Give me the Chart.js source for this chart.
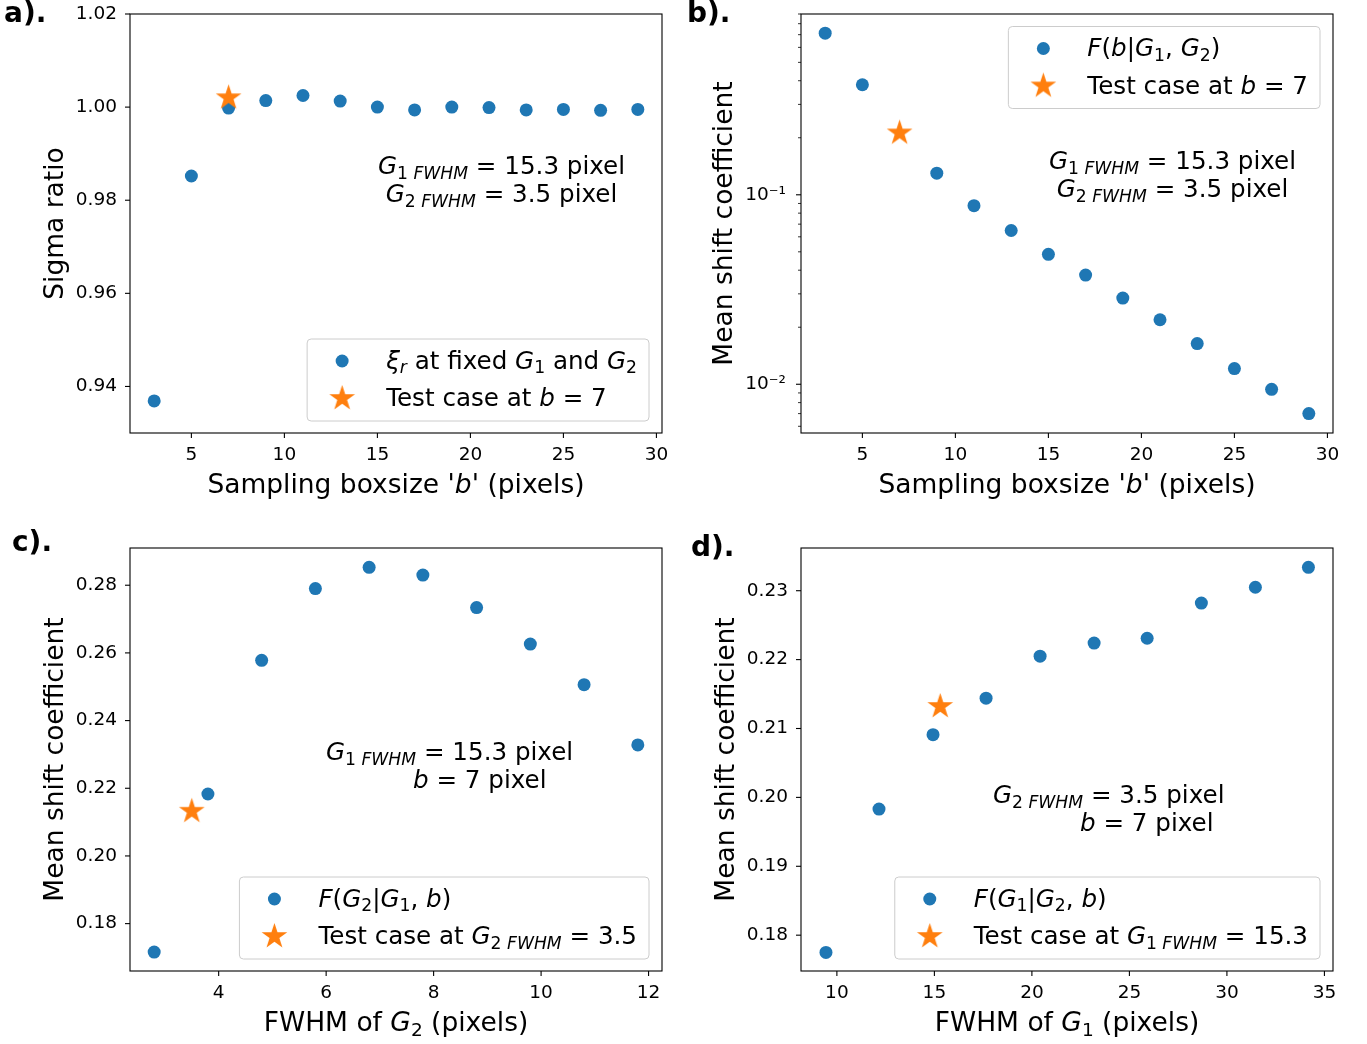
<!DOCTYPE html>
<html>
<head>
<meta charset="utf-8">
<title>Sigma ratio and mean shift coefficient</title>
<script src="https://cdn.jsdelivr.net/npm/chart.js@4.4.1/dist/chart.umd.min.js"></script>
<style>
  html, body { margin: 0; padding: 0; background: #fff; }
  #fig { position: relative; width: 1367px; height: 1044px; overflow: hidden; }
  .panel { position: absolute; }
</style>
</head>
<body>
<div id="fig">
  <div class="panel" style="left:0;top:0;width:683px;height:522px"><canvas id="chartA"></canvas></div>
  <div class="panel" style="left:683px;top:0;width:684px;height:522px"><canvas id="chartB"></canvas></div>
  <div class="panel" style="left:0;top:522px;width:683px;height:522px"><canvas id="chartC"></canvas></div>
  <div class="panel" style="left:683px;top:522px;width:684px;height:522px"><canvas id="chartD"></canvas></div>
</div>
<script>
const FONT = '"DejaVu Sans", "Liberation Sans", sans-serif';
const BLUE = '#1f77b4';
const ORANGE = '#ff7f0e';
const TICK_SIZE = 18.5;
const LABEL_SIZE = 26.5;
const TEXT_SIZE = 24.6;

// --- a): sigma ratio vs sampling boxsize b ---
const boxSizes = [3, 5, 7, 9, 11, 13, 15, 17, 19, 21, 23, 25, 27, 29];
const sigmaRatio = [0.9369, 0.9852, 0.9998, 1.0014, 1.0025, 1.0013, 1.0000, 0.9994, 1.0000, 0.9999, 0.9994, 0.9995, 0.9993, 0.9995];
const testBox = [7];
const testSigma = [1.0020];

// --- b): mean shift vs sampling boxsize b (b = 7 only shown as the test case) ---
const boxSizesB = [3, 5, 9, 11, 13, 15, 17, 19, 21, 23, 25, 27, 29];
const shiftVsBox = [0.713, 0.381, 0.130, 0.0876, 0.0648, 0.0485, 0.0377, 0.0285, 0.0219, 0.0164, 0.0121, 0.0094, 0.0070];
const testShiftB = [0.212];

// --- c): FWHM of G2 ---
const g2Fwhm = [2.8, 3.8, 4.8, 5.8, 6.8, 7.8, 8.8, 9.8, 10.8, 11.8];
const shiftVsG2 = [0.1716, 0.2183, 0.2578, 0.2790, 0.2853, 0.2830, 0.2734, 0.2626, 0.2506, 0.2328];
const testG2 = [3.5];
const testShiftC = [0.2132];

// --- d): FWHM of G1 ---
const g1Fwhm = [9.44, 12.16, 14.93, 17.65, 20.42, 23.19, 25.91, 28.69, 31.46, 34.18];
const shiftVsG1 = [0.1775, 0.1983, 0.2091, 0.2144, 0.2205, 0.2224, 0.2231, 0.2282, 0.2305, 0.2334];
const testG1 = [15.3];
const testShiftD = [0.2132];

// --- tick values ---
const boxTicks = [5, 10, 15, 20, 25, 30];
const sigmaTicks = [0.94, 0.96, 0.98, 1.00, 1.02];
const logMajorTicks = [0.01, 0.1];
const logMinorTicks = [0.006, 0.007, 0.008, 0.009, 0.02, 0.03, 0.04, 0.05, 0.06, 0.07, 0.08, 0.09,
  0.2, 0.3, 0.4, 0.5, 0.6, 0.7, 0.8, 0.9];
const g2Ticks = [4, 6, 8, 10, 12];
const shiftTicksC = [0.18, 0.20, 0.22, 0.24, 0.26, 0.28];
const g1Ticks = [10, 15, 20, 25, 30, 35];
const shiftTicksD = [0.18, 0.19, 0.20, 0.21, 0.22, 0.23];

// --- helpers ---
function makeStar(r, color) {
  const c = document.createElement('canvas');
  const size = Math.ceil(r * 2 + 2);
  c.width = size; c.height = size;
  const g = c.getContext('2d');
  g.translate(size / 2, size / 2);
  g.beginPath();
  for (let k = 0; k < 10; k++) {
    const rad = k % 2 ? r * 0.382 : r;
    const ang = -Math.PI / 2 + k * Math.PI / 5;
    g.lineTo(rad * Math.cos(ang), rad * Math.sin(ang));
  }
  g.closePath();
  g.fillStyle = color;
  g.fill();
  return c;
}
const starImg = makeStar(13.5, ORANGE);

// rich text runs: [text, flags]  i = italic, s = subscript
function runFont(flags, size) {
  const px = flags.includes('s') ? size * 0.7 : size;
  return (flags.includes('i') ? 'italic ' : '') + px.toFixed(1) + 'px ' + FONT;
}
function richWidth(ctx, runs, size) {
  let w = 0;
  runs.forEach(([t, f = '']) => { ctx.font = runFont(f, size); w += ctx.measureText(t).width; });
  return w;
}
function drawRich(ctx, runs, x, y, size, align) {
  const w = richWidth(ctx, runs, size);
  let cx = align === 'center' ? x - w / 2 : (align === 'right' ? x - w : x);
  ctx.textAlign = 'left';
  ctx.textBaseline = 'alphabetic';
  runs.forEach(([t, f = '']) => {
    ctx.font = runFont(f, size);
    const dy = f.includes('s') ? size * 0.2 : 0;
    ctx.fillText(t, cx, y + dy);
    cx += ctx.measureText(t).width;
  });
  return w;
}
function roundRectPath(ctx, x, y, w, h, r) {
  ctx.beginPath();
  ctx.moveTo(x + r, y);
  ctx.lineTo(x + w - r, y);
  ctx.arcTo(x + w, y, x + w, y + r, r);
  ctx.lineTo(x + w, y + h - r);
  ctx.arcTo(x + w, y + h, x + w - r, y + h, r);
  ctx.lineTo(x + r, y + h);
  ctx.arcTo(x, y + h, x, y + h - r, r);
  ctx.lineTo(x, y + r);
  ctx.arcTo(x, y, x + r, y, r);
  ctx.closePath();
}

// frame, tick marks, titles, notes, legend, panel label
function decor(cfg) {
  return {
    id: 'decor',
    afterDraw(chart) {
      const ctx = chart.ctx;
      const a = chart.chartArea;
      const xs = chart.scales.x, ys = chart.scales.y;
      ctx.save();
      ctx.strokeStyle = '#000';
      ctx.fillStyle = '#000';

      ctx.lineWidth = 1.1;
      ctx.strokeRect(a.left, a.top, a.right - a.left, a.bottom - a.top);

      const tickLine = (x1, y1, x2, y2, w) => {
        ctx.lineWidth = w;
        ctx.beginPath(); ctx.moveTo(x1, y1); ctx.lineTo(x2, y2); ctx.stroke();
      };
      cfg.xTicks.forEach(v => { const p = xs.getPixelForValue(v); tickLine(p, a.bottom, p, a.bottom + 5, 1.1); });
      cfg.yTicks.forEach(v => { const p = ys.getPixelForValue(v); tickLine(a.left - 5, p, a.left, p, 1.1); });
      (cfg.yMinor || []).forEach(v => { const p = ys.getPixelForValue(v); tickLine(a.left - 3, p, a.left, p, 0.8); });

      // axis titles
      drawRich(ctx, cfg.xTitle, (a.left + a.right) / 2, a.bottom + 60, LABEL_SIZE, 'center');
      ctx.save();
      ctx.translate(a.left - cfg.yTitleOff, (a.top + a.bottom) / 2);
      ctx.rotate(-Math.PI / 2);
      drawRich(ctx, cfg.yTitle, 0, 9.5, LABEL_SIZE, 'center');
      ctx.restore();

      // annotation text
      cfg.notes.forEach(n => drawRich(ctx, n.runs, a.left + n.dx, a.top + n.dy, TEXT_SIZE, n.align));

      // legend
      const L = cfg.legend;
      let maxW = 0;
      L.entries.forEach(e => { maxW = Math.max(maxW, richWidth(ctx, e.runs, TEXT_SIZE)); });
      const w = 79 + maxW + 12, h = 82;
      const left = a.right - 13 - w;
      const top = L.loc === 'upper' ? a.top + 12.5 : a.bottom - 12 - h;
      roundRectPath(ctx, left, top, w, h, 4);
      ctx.fillStyle = 'rgba(255,255,255,0.8)';
      ctx.fill();
      ctx.lineWidth = 1;
      ctx.strokeStyle = '#cccccc';
      ctx.stroke();
      L.entries.forEach((e, i) => {
        const cy = top + (i === 0 ? 22 : 59.5);
        const mx = left + 35;
        if (e.marker === 'star') {
          ctx.drawImage(starImg, mx - starImg.width / 2, cy - starImg.height / 2);
        } else {
          ctx.fillStyle = BLUE;
          ctx.beginPath(); ctx.arc(mx, cy, 6.5, 0, Math.PI * 2); ctx.fill();
        }
        ctx.fillStyle = '#000';
        drawRich(ctx, e.runs, left + 79, cy + 7.5, TEXT_SIZE, 'left');
      });

      // panel label
      ctx.fillStyle = '#000';
      ctx.font = 'bold 28px ' + FONT;
      ctx.textAlign = 'left';
      ctx.textBaseline = 'alphabetic';
      ctx.fillText(cfg.label, cfg.labelX, cfg.labelY);
      ctx.restore();
    }
  };
}

function tickStyle(pad) {
  return { color: '#000', font: { family: FONT, size: TICK_SIZE }, padding: pad, autoSkip: false, maxRotation: 0, minRotation: 0 };
}

function makeChart(id, spec) {
  const points = spec.xs.map((x, i) => ({ x: x, y: spec.ys[i] }));
  const test = spec.tx.map((x, i) => ({ x: x, y: spec.ty[i] }));
  const yTickList = spec.yTicks.concat(spec.yMinor || []);
  const yAxis = {
    type: spec.yType,
    min: spec.yMin, max: spec.yMax,
    grid: { display: false, drawTicks: false },
    border: { display: false },
    ticks: Object.assign(tickStyle(spec.yPad), { callback: spec.yFmt }),
    afterBuildTicks: s => { s.ticks = yTickList.slice().sort((p, q) => p - q).map(v => ({ value: v })); },
    afterFit: s => { s.width = spec.yWidth; s.paddingTop = 0; s.paddingBottom = 0; }
  };
  const xAxis = {
    type: 'linear',
    min: spec.xMin, max: spec.xMax,
    grid: { display: false, drawTicks: false },
    border: { display: false },
    ticks: Object.assign(tickStyle(11), { callback: v => String(v) }),
    afterBuildTicks: s => { s.ticks = spec.xTicks.map(v => ({ value: v })); },
    afterFit: s => { s.height = spec.xHeight; s.paddingLeft = 0; s.paddingRight = 0; }
  };
  return new Chart(document.getElementById(id), {
    type: 'scatter',
    data: {
      datasets: [
        { label: 'test', data: test, order: 0, pointStyle: starImg, pointRadius: 13, pointHoverRadius: 13 },
        { label: 'series', data: points, order: 1, pointStyle: 'circle', pointRadius: 6.5, pointHoverRadius: 6.5,
          backgroundColor: BLUE, borderColor: BLUE, borderWidth: 0 }
      ]
    },
    options: {
      responsive: true,
      maintainAspectRatio: false,
      devicePixelRatio: 1,
      animation: false,
      events: [],
      layout: { padding: spec.pad },
      scales: { x: xAxis, y: yAxis },
      plugins: { legend: { display: false }, tooltip: { enabled: false }, title: { display: false } }
    },
    plugins: [decor(spec.decor)]
  });
}

const boxTitle = [["Sampling boxsize '"], ['b', 'i'], ["' (pixels)"]];
const testAtB = [['Test case at '], ['b', 'i'], [' = 7']];
const g1Line = [['G', 'i'], ['1 ', 's'], ['FWHM', 'si'], [' = 15.3 pixel']];
const g2Line = [['G', 'i'], ['2 ', 's'], ['FWHM', 'si'], [' = 3.5 pixel']];
const bLine = [['b', 'i'], [' = 7 pixel']];
const fix2 = v => Number(v).toFixed(2);

makeChart('chartA', {
  xs: boxSizes, ys: sigmaRatio, tx: testBox, ty: testSigma,
  xMin: 1.7, xMax: 30.3, xTicks: boxTicks,
  yType: 'linear', yMin: 0.93, yMax: 1.02, yTicks: sigmaTicks, yFmt: fix2, yPad: 13,
  pad: { left: 0, top: 10, right: 21, bottom: 0 }, yWidth: 130, xHeight: 89,
  decor: {
    xTicks: boxTicks, yTicks: sigmaTicks,
    xTitle: boxTitle, yTitle: [['Sigma ratio']], yTitleOff: 77,
    notes: [{ runs: g1Line, dx: 371.5, dy: 160, align: 'center' }, { runs: g2Line, dx: 371.5, dy: 188, align: 'center' }],
    legend: { loc: 'lower', entries: [
      { marker: 'circle', runs: [['ξ', 'i'], ['r', 'si'], [' at fixed '], ['G', 'i'], ['1', 's'], [' and '], ['G', 'i'], ['2', 's']] },
      { marker: 'star', runs: testAtB }
    ] },
    label: 'a).', labelX: 4, labelY: 22
  }
});

makeChart('chartB', {
  xs: boxSizesB, ys: shiftVsBox, tx: testBox, ty: testShiftB,
  xMin: 1.7, xMax: 30.3, xTicks: boxTicks,
  yType: 'logarithmic', yMin: 0.00553, yMax: 0.90, yTicks: logMajorTicks, yMinor: logMinorTicks, yPad: 15,
  yFmt: v => (v === 0.1 ? '10⁻¹' : (v === 0.01 ? '10⁻²' : '')),
  pad: { left: 0, top: 10, right: 34, bottom: 0 }, yWidth: 118, xHeight: 89,
  decor: {
    xTicks: boxTicks, yTicks: logMajorTicks, yMinor: logMinorTicks,
    xTitle: boxTitle, yTitle: [['Mean shift coefficient']], yTitleOff: 79,
    notes: [{ runs: g1Line, dx: 371.5, dy: 155, align: 'center' }, { runs: g2Line, dx: 371.5, dy: 183, align: 'center' }],
    legend: { loc: 'upper', entries: [
      { marker: 'circle', runs: [['F', 'i'], ['('], ['b', 'i'], ['|'], ['G', 'i'], ['1', 's'], [', '], ['G', 'i'], ['2', 's'], [')']] },
      { marker: 'star', runs: testAtB }
    ] },
    label: 'b).', labelX: 4, labelY: 22
  }
});

makeChart('chartC', {
  xs: g2Fwhm, ys: shiftVsG2, tx: testG2, ty: testShiftC,
  xMin: 2.35, xMax: 12.25, xTicks: g2Ticks,
  yType: 'linear', yMin: 0.1660, yMax: 0.2910, yTicks: shiftTicksC, yFmt: fix2, yPad: 13,
  pad: { left: 0, top: 26, right: 21, bottom: 0 }, yWidth: 130, xHeight: 73,
  decor: {
    xTicks: g2Ticks, yTicks: shiftTicksC,
    xTitle: [['FWHM of '], ['G', 'i'], ['2', 's'], [' (pixels)']], yTitle: [['Mean shift coefficient']], yTitleOff: 77,
    notes: [{ runs: g1Line, dx: 196, dy: 212, align: 'left' }, { runs: bLine, dx: 283, dy: 240, align: 'left' }],
    legend: { loc: 'lower', entries: [
      { marker: 'circle', runs: [['F', 'i'], ['('], ['G', 'i'], ['2', 's'], ['|'], ['G', 'i'], ['1', 's'], [', '], ['b', 'i'], [')']] },
      { marker: 'star', runs: [['Test case at '], ['G', 'i'], ['2 ', 's'], ['FWHM', 'si'], [' = 3.5']] }
    ] },
    label: 'c).', labelX: 12, labelY: 29
  }
});

makeChart('chartD', {
  xs: g1Fwhm, ys: shiftVsG1, tx: testG1, ty: testShiftD,
  xMin: 8.16, xMax: 35.44, xTicks: g1Ticks,
  yType: 'linear', yMin: 0.1748, yMax: 0.2362, yTicks: shiftTicksD, yFmt: fix2, yPad: 13,
  pad: { left: 0, top: 26, right: 34, bottom: 0 }, yWidth: 118, xHeight: 73,
  decor: {
    xTicks: g1Ticks, yTicks: shiftTicksD,
    xTitle: [['FWHM of '], ['G', 'i'], ['1', 's'], [' (pixels)']], yTitle: [['Mean shift coefficient']], yTitleOff: 77,
    notes: [{ runs: g2Line, dx: 192, dy: 255, align: 'left' }, { runs: bLine, dx: 279, dy: 283, align: 'left' }],
    legend: { loc: 'lower', entries: [
      { marker: 'circle', runs: [['F', 'i'], ['('], ['G', 'i'], ['1', 's'], ['|'], ['G', 'i'], ['2', 's'], [', '], ['b', 'i'], [')']] },
      { marker: 'star', runs: [['Test case at '], ['G', 'i'], ['1 ', 's'], ['FWHM', 'si'], [' = 15.3']] }
    ] },
    label: 'd).', labelX: 8, labelY: 34
  }
});
</script>
</body>
</html>
